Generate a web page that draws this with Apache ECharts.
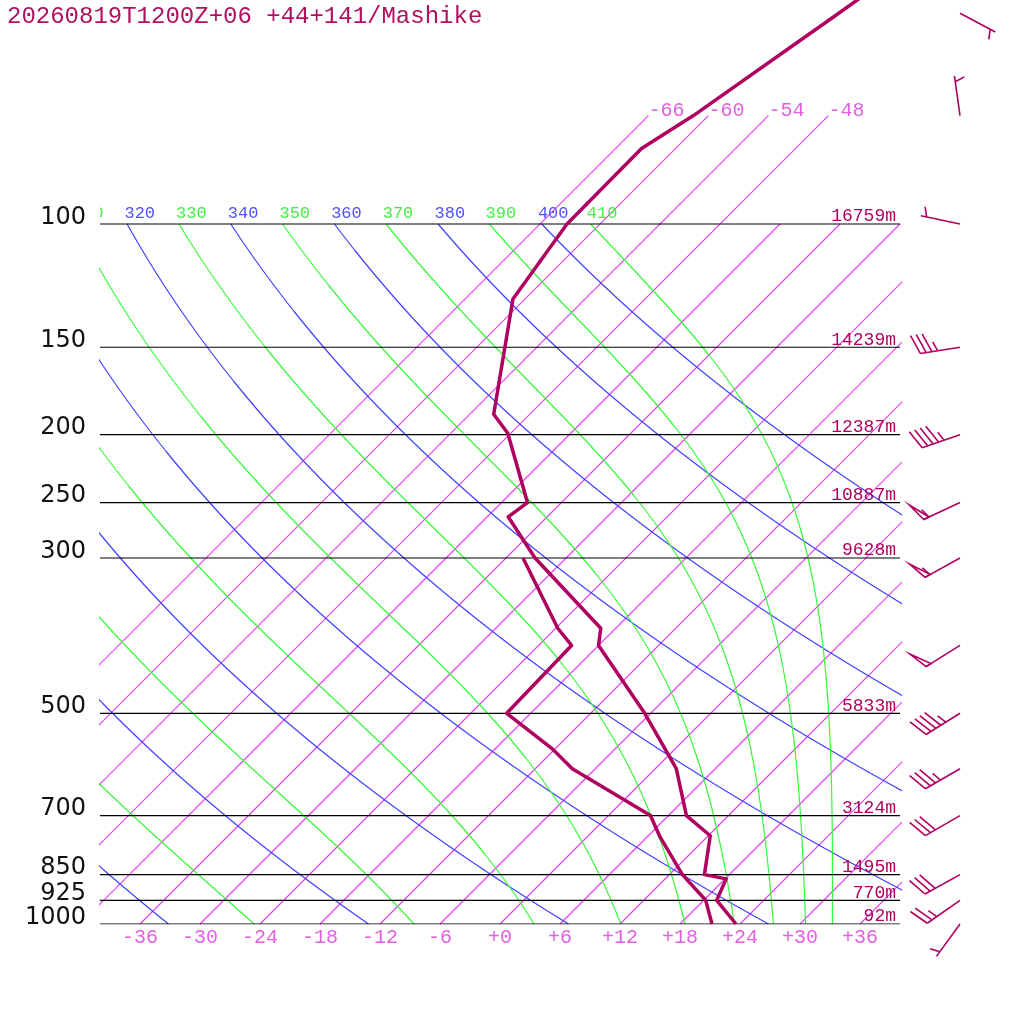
<!DOCTYPE html>
<html><head><meta charset="utf-8">
<script src="https://cdn.jsdelivr.net/npm/echarts@6/dist/echarts.min.js"></script>
<style>html,body{margin:0;padding:0;background:#fff}#c{width:1024px;height:1024px}</style>
</head><body><div id="c"></div><script>
// ---------- data ----------
const titleText = '20260819T1200Z+06 +44+141/Mashike';
const tempP = [1000, 925, 862, 850, 748, 700, 600, 500, 400, 378, 300, 262, 250, 199, 187, 128, 100, 78, 70, 50, 30];
const tempT = [23.6, 19.3, 18.1, 15.5, 12.2, 7.8, 2.1, -6.6, -18.0, -19.5, -33.1, -39.9, -39.4, -48.3, -51.6, -61.2, -63.3, -63.4, -61.5, -57.2, -51.0];
const dewP = [1000, 925, 850, 751, 700, 600, 561, 500, 400, 378, 300];
const dewT = [21.2, 18.2, 13.3, 7.3, 4.2, -8.3, -12.4, -20.4, -20.7, -23.8, -34.3];
const levelP = [1000, 925, 850, 700, 500, 300, 250, 200, 150, 100];
const levelLabel = ['1000', '925', '850', '700', '500', '300', '250', '200', '150', '100'];
const levelHeight = ['92m', '770m', '1495m', '3124m', '5833m', '9628m', '10887m', '12387m', '14239m', '16759m'];
const tempTicks = [-36, -30, -24, -18, -12, -6, 0, 6, 12, 18, 24, 30, 36];
const isotherms = [-66, -60, -54, -48, -42, -36, -30, -24, -18, -12, -6, 0, 6, 12, 18, 24, 30, 36];
const isothermsHigh = [-66, -60, -54, -48];
const dryTheta = [240, 260, 280, 300, 320, 340, 360, 380, 400];
const moistThetaE = [250, 270, 290, 310, 330, 350, 370, 390, 410];
const windP = [1000, 925, 850, 700, 600, 500, 400, 300, 250, 200, 150, 100, 70, 50];
const windDir = [216, 235, 241, 240, 240, 238, 238, 241, 245, 251, 261, 282, 352, 118];
const windKt = [5, 25, 30, 30, 35, 45, 50, 55, 55, 45, 35, 5, 5, 5];

// ---------- diagram geometry ----------
const SKEW = 70;            // skew in degC per decade of pressure
const P_TOP_HIGH = 70;      // upper end of the long isotherms
const P_BOT = 1000, P_TOP = 100;
const skewX = (t, p) => t + SKEW * Math.log10(1000 / p);

const C_CURVE = '#b0005f';
const C_ISO = '#e040e8';
const C_DRY = '#4040ff';
const C_MOIST = '#38f838';
const MONO = '"Liberation Mono", monospace';

function esat(tc) { return 6.112 * Math.exp(17.67 * tc / (tc + 243.5)); }
function thetaE(tk, p) {
  const e = esat(tk - 273.15);
  if (e >= 0.5 * p) return 1e6;
  const r = 622 * e / (p - e);
  return tk * Math.pow(1000 / p, 0.2854 * (1 - 0.00028 * r)) * Math.exp((3.376 / tk - 0.00254) * r * (1 + 0.00081 * r));
}
function moistT(the, p) {
  let lo = 120, hi = 345;
  for (let i = 0; i < 60; i++) { const m = (lo + hi) / 2; if (thetaE(m, p) > the) hi = m; else lo = m; }
  return (lo + hi) / 2 - 273.15;
}
function dryT(th, p) { return th * Math.pow(p / 1000, 0.2854) - 273.15; }

const samples = [];
for (let i = 0; i <= 80; i++) samples.push(P_BOT * Math.pow(10, -i / 80));

const series = [];
const bgLine = (data, color, z, w) => ({
  type: 'line', data, symbol: 'none', showSymbol: false, silent: true, animation: false,
  color: color, itemStyle: { color: color },
  lineStyle: { color: color, width: w || 1.2, opacity: 1 }, clip: true, z
});
isotherms.forEach(t => {
  const pt = isothermsHigh.includes(t) ? P_TOP_HIGH : P_TOP;
  series.push(bgLine([[skewX(t, P_BOT), P_BOT], [skewX(t, (P_BOT + pt) / 2), (P_BOT + pt) / 2], [skewX(t, pt), pt]], C_ISO, 1));
});
dryTheta.forEach(th => series.push(bgLine(samples.map(p => [skewX(dryT(th, p), p), p]), C_DRY, 2)));
moistThetaE.forEach(th => series.push(bgLine(samples.map(p => [skewX(moistT(th, p), p), p]), C_MOIST, 2)));
levelP.forEach(p => series.push(bgLine([[-40, p], [40, p]], '#000', 3, 1.2)));

series.push({
  type: 'line', data: tempP.map((p, i) => [skewX(tempT[i], p), p]), symbol: 'none', silent: true,
  animation: false, clip: true, z: 5, color: C_CURVE, lineStyle: { color: C_CURVE, width: 3.5, join: 'round' }
});
series.push({
  type: 'line', data: dewP.map((p, i) => [skewX(dewT[i], p), p]), symbol: 'none', silent: true,
  animation: false, clip: true, z: 5, color: C_CURVE, lineStyle: { color: C_CURVE, width: 3.5, join: 'round' }
});

function textSeries(points, texts, st, dx, dy, clip) {
  return {
    type: 'custom', data: points, silent: true, animation: false, z: 6, clip: !!clip,
    renderItem: (params, api) => {
      const c = api.coord([api.value(0), api.value(1)]);
      return {
        type: 'text', x: c[0] + dx, y: c[1] + dy,
        style: Object.assign({ text: texts[params.dataIndex], verticalAlign: 'middle' }, st)
      };
    }
  };
}
// pressure labels
series.push(textSeries(levelP.map(p => [-40, p]), levelLabel,
  { fill: '#111', fontSize: 24, fontFamily: '"DejaVu Sans"', align: 'right' }, -14, -6.5));
// height labels
series.push(textSeries(levelP.map(p => [40, p]), levelHeight,
  { fill: C_CURVE, fontSize: 18, fontFamily: MONO, align: 'right' }, -4, -7.5));
// temperature tick labels
series.push(textSeries(tempTicks.map(t => [t, P_BOT]), tempTicks.map(t => (t >= 0 ? '+' : '-') + Math.abs(t)),
  { fill: '#e060e0', fontSize: 20, fontFamily: MONO, align: 'center' }, 0, 13.5));
// isotherm labels at the top
series.push(textSeries(isothermsHigh.map(t => [skewX(t, P_TOP_HIGH), P_TOP_HIGH]), isothermsHigh.map(t => (t >= 0 ? '+' : '-') + Math.abs(t)),
  { fill: '#e060e0', fontSize: 20, fontFamily: MONO, align: 'left' }, 0, -5));
// adiabat labels
const pLab = 99;
const thetaAll = [];
dryTheta.forEach(th => thetaAll.push({ th, x: skewX(dryT(th, pLab), pLab), c: '#5050ff' }));
moistThetaE.forEach(th => thetaAll.push({ th, x: skewX(moistT(th, pLab), pLab), c: '#44ee44' }));
thetaAll.forEach(o => {
  series.push(textSeries([[o.x, pLab]], [String(o.th)],
    { fill: o.c, fontSize: 17, fontFamily: MONO, align: 'left' }, -1, -7.5, true));
});

// wind barbs
const STAFF = 40, SP = 5.8, BL = 20.5, ANG = 70 * Math.PI / 180;
series.push({
  type: 'custom', data: windP.map(p => [40, p]), silent: true, animation: false, z: 6, clip: false,
  renderItem: (params, api) => {
    const i = params.dataIndex;
    const c = api.coord([api.value(0), api.value(1)]);
    const x0 = c[0] + 60, y0 = c[1];
    const rad = windDir[i] * Math.PI / 180;
    const ux = Math.sin(rad), uy = -Math.cos(rad);
    const bx = ux * Math.cos(ANG) - uy * Math.sin(ANG), by = ux * Math.sin(ANG) + uy * Math.cos(ANG);
    const P = d => [x0 + ux * d, y0 + uy * d];
    const st = { stroke: C_CURVE, lineWidth: 1.6, fill: 'none' };
    const end = P(STAFF);
    const ch = [{ type: 'line', shape: { x1: x0, y1: y0, x2: end[0], y2: end[1] }, style: st }];
    let s = Math.round(windKt[i] / 5) * 5;
    const n50 = Math.floor(s / 50); s -= n50 * 50;
    const n10 = Math.floor(s / 10); s -= n10 * 10;
    const n5 = s >= 5 ? 1 : 0;
    let d = STAFF;
    if (n50 === 0 && n10 === 0) d = STAFF - SP;
    for (let k = 0; k < n50; k++) {
      const a = P(d), b = P(d - SP);
      ch.push({ type: 'polygon', shape: { points: [a, [a[0] + bx * BL, a[1] + by * BL], b] }, style: st });
      d -= SP;
    }
    for (let k = 0; k < n10; k++) {
      const a = P(d);
      ch.push({ type: 'line', shape: { x1: a[0], y1: a[1], x2: a[0] + bx * BL, y2: a[1] + by * BL }, style: st });
      d -= SP;
    }
    if (n5) {
      const a = P(d);
      ch.push({ type: 'line', shape: { x1: a[0], y1: a[1], x2: a[0] + bx * BL / 2, y2: a[1] + by * BL / 2 }, style: st });
    }
    return { type: 'group', children: ch };
  }
});

const chart = echarts.init(document.getElementById('c'), null, { renderer: 'canvas' });
chart.setOption({
  animation: false,
  backgroundColor: '#fff',
  grid: { left: 100, right: 124, top: 0, bottom: 100 },
  xAxis: { type: 'value', min: -40, max: 40, show: false },
  yAxis: { type: 'log', logBase: 10, inverse: true, min: 1000 * Math.pow(10, -924 / 700), max: 1000, show: false },
  graphic: [{
    type: 'text', left: 7, top: 5,
    style: { text: titleText, fill: '#b0105f', fontSize: 24, fontFamily: MONO }
  }],
  series
});
</script></body></html>
